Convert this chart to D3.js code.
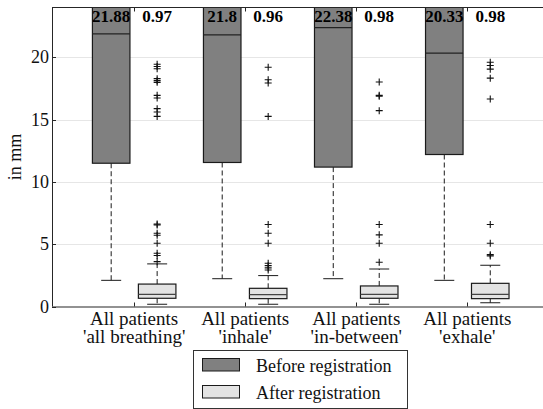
<!DOCTYPE html>
<html>
<head>
<meta charset="utf-8">
<script src="https://cdn.jsdelivr.net/npm/d3@7/dist/d3.min.js"></script>
<style>
  html, body { margin: 0; padding: 0; background: #fff; }
  svg text { font-family: "Liberation Serif", "DejaVu Serif", Times, serif; }
</style>
</head>
<body>
<svg id="chart" width="543" height="409" style="display:block"></svg>
<script>
// Registration error per breathing phase, before vs. after registration (mm)
const groupLine1 = ["All patients", "All patients", "All patients", "All patients"];
const groupLine2 = ["'all breathing'", "'inhale'", "'in-between'", "'exhale'"];

// Before registration: lower whisker, Q1, median, Q3, upper whisker
const beforeLow    = [2.1, 2.23, 2.23, 2.1];
const beforeQ1     = [11.5, 11.56, 11.19, 12.2];
const beforeMedian = [21.88, 21.8, 22.38, 20.33];
const beforeQ3     = [30.0, 30.0, 30.0, 30.0];
const beforeHigh   = [45.0, 45.0, 45.0, 45.0];

// After registration
const afterLow    = [0.18, 0.18, 0.18, 0.3];
const afterQ1     = [0.66, 0.63, 0.66, 0.63];
const afterMedian = [0.97, 0.96, 0.98, 0.98];
const afterQ3     = [1.8, 1.46, 1.65, 1.86];
const afterHigh   = [3.42, 2.48, 3.01, 3.31];
const afterOutliers = [
  [19.45, 19.26, 19.08, 18.29, 18.13, 17.99, 16.95, 16.74, 15.88, 15.61, 15.26,
   6.62, 6.55, 5.88, 5.72, 5.08, 4.27, 4.09, 3.6],
  [19.2, 18.2, 17.94, 15.26, 6.58, 5.88, 5.08, 3.47, 3.28, 3.1, 2.93],
  [18.02, 16.95, 16.88, 15.72, 6.58, 5.75, 5.08, 3.55],
  [19.6, 19.35, 19.05, 18.33, 16.66, 6.58, 5.08, 4.16, 4.06]
];

const yTicks = [0, 5, 10, 15, 20];
const yLabel = "in mm";
const legendLabels = ["Before registration", "After registration"];

const beforeFill = "#808080";
const afterFill = "#e3e3e3";
const edge = "#1a1a1a";
const axisColor = "#262626";
const serif = "'Liberation Serif', 'DejaVu Serif', Times, serif";

const svg = d3.select("#chart");
const plotLeft = 52, plotRight = 545, plotTop = 7.5, plotBottom = 306.5;

const x = d3.scaleLinear().domain([0.26, 4.7]).range([plotLeft, plotRight]);
const y = d3.scaleLinear().domain([0, 24]).range([plotBottom, plotTop]);

const offset = 0.207, boxW = 0.338, capW = 0.18;

// clip region for the plot area
svg.append("defs").append("clipPath").attr("id", "plotClip")
  .append("rect").attr("x", plotLeft).attr("y", plotTop)
  .attr("width", plotRight - plotLeft).attr("height", plotBottom - plotTop);

// grid
svg.append("g").selectAll("line").data(yTicks.filter(d => d > 0)).join("line")
  .attr("x1", plotLeft).attr("x2", plotRight)
  .attr("y1", d => Math.round(y(d)) + 0.5).attr("y2", d => Math.round(y(d)) + 0.5)
  .attr("stroke", "#e6e6e6").attr("stroke-width", 1);

const plot = svg.append("g").attr("clip-path", "url(#plotClip)");

function drawBox(g, cx, lo, q1, med, q3, hi, fill, medColor) {
  const hw = x(boxW / 2) - x(0);
  const cw = x(capW / 2) - x(0);
  const px = x(cx);
  // whiskers
  g.append("line").attr("x1", px).attr("x2", px).attr("y1", y(q1)).attr("y2", y(lo))
    .attr("stroke", edge).attr("stroke-width", 1).attr("stroke-dasharray", "5,3");
  g.append("line").attr("x1", px).attr("x2", px).attr("y1", y(q3)).attr("y2", y(hi))
    .attr("stroke", edge).attr("stroke-width", 1).attr("stroke-dasharray", "5,3");
  g.append("line").attr("x1", px - cw).attr("x2", px + cw).attr("y1", y(lo)).attr("y2", y(lo))
    .attr("stroke", edge).attr("stroke-width", 1);
  g.append("line").attr("x1", px - cw).attr("x2", px + cw).attr("y1", y(hi)).attr("y2", y(hi))
    .attr("stroke", edge).attr("stroke-width", 1);
  // box
  g.append("rect").attr("x", px - hw).attr("y", y(q3)).attr("width", 2 * hw).attr("height", y(q1) - y(q3))
    .attr("fill", fill).attr("stroke", edge).attr("stroke-width", 1.2);
  // median
  g.append("line").attr("x1", px - hw).attr("x2", px + hw).attr("y1", y(med)).attr("y2", y(med))
    .attr("stroke", medColor).attr("stroke-width", 1.2);
}

groupLine1.forEach((_, i) => {
  const pos = i + 1;
  drawBox(plot, pos - offset, beforeLow[i], beforeQ1[i], beforeMedian[i], beforeQ3[i], beforeHigh[i], beforeFill, "#222");
  drawBox(plot, pos + offset, afterLow[i], afterQ1[i], afterMedian[i], afterQ3[i], afterHigh[i], afterFill, "#444");
  // outliers as plus markers
  const ox = x(pos + offset);
  plot.append("g").selectAll("path").data(afterOutliers[i]).join("path")
    .attr("d", d => `M${ox - 3.5},${y(d)}H${ox + 3.5}M${ox},${y(d) - 3.5}V${y(d) + 3.5}`)
    .attr("stroke", "#111").attr("stroke-width", 1.1).attr("fill", "none");
});

// axes frame
svg.append("line").attr("x1", plotLeft + 0.5).attr("x2", plotLeft + 0.5).attr("y1", plotTop).attr("y2", plotBottom)
  .attr("stroke", axisColor).attr("stroke-width", 1);
svg.append("line").attr("x1", plotLeft).attr("x2", plotRight).attr("y1", plotBottom + 0.5).attr("y2", plotBottom + 0.5)
  .attr("stroke", axisColor).attr("stroke-width", 1.2);
svg.append("line").attr("x1", plotLeft).attr("x2", plotRight).attr("y1", plotTop).attr("y2", plotTop)
  .attr("stroke", axisColor).attr("stroke-width", 1);

// y ticks (inward) and labels
const yAxis = svg.append("g");
yTicks.forEach(t => {
  const ty = Math.round(y(t)) + 0.5;
  yAxis.append("line").attr("x1", plotLeft).attr("x2", plotLeft + 4).attr("y1", ty).attr("y2", ty)
    .attr("stroke", axisColor);
  yAxis.append("text").attr("x", plotLeft - 3).attr("y", y(t)).attr("dy", "0.34em")
    .attr("font-family", serif)
    .attr("text-anchor", "end").attr("font-size", 18).attr("fill", "#111").text(t);
});

// x ticks (inward, bottom and top) and two-line category labels
groupLine1.forEach((l1, i) => {
  const px = Math.round(x(i + 1)) + 0.5;
  svg.append("line").attr("x1", px).attr("x2", px).attr("y1", plotBottom).attr("y2", plotBottom - 4).attr("stroke", axisColor);
  svg.append("line").attr("x1", px).attr("x2", px).attr("y1", plotTop).attr("y2", plotTop + 4).attr("stroke", axisColor);
  svg.append("text").attr("x", x(i + 1)).attr("y", 325).attr("text-anchor", "middle")
    .attr("font-family", serif).attr("font-size", 19).attr("fill", "#111").text(l1);
  svg.append("text").attr("x", x(i + 1)).attr("y", 343).attr("text-anchor", "middle")
    .attr("font-family", serif).attr("font-size", 19).attr("fill", "#111").text(groupLine2[i]);
});

// median value labels
groupLine1.forEach((_, i) => {
  svg.append("text").attr("x", x(i + 1 - offset)).attr("y", 22).attr("text-anchor", "middle")
    .attr("font-family", serif)
    .attr("font-size", 17).attr("font-weight", "bold").attr("fill", "#000").text(beforeMedian[i]);
  svg.append("text").attr("x", x(i + 1 + offset)).attr("y", 22).attr("text-anchor", "middle")
    .attr("font-family", serif)
    .attr("font-size", 17).attr("font-weight", "bold").attr("fill", "#000").text(afterMedian[i]);
});

// y axis title
svg.append("text").attr("transform", `translate(21,${(plotTop + plotBottom) / 2}) rotate(-90)`)
  .attr("font-family", serif)
  .attr("text-anchor", "middle").attr("font-size", 18).attr("fill", "#111").text(yLabel);

// legend
const lg = svg.append("g");
lg.append("rect").attr("x", 193.5).attr("y", 350.5).attr("width", 214).attr("height", 58)
  .attr("fill", "#fff").attr("stroke", "#333").attr("stroke-width", 1);
[beforeFill, afterFill].forEach((c, i) => {
  const ry = 358.5 + i * 27;
  lg.append("rect").attr("x", 202.5).attr("y", ry).attr("width", 37).attr("height", 12.5)
    .attr("fill", c).attr("stroke", edge).attr("stroke-width", 1);
  lg.append("text").attr("x", 256).attr("y", ry + 13).attr("font-family", serif)
    .attr("font-size", 18).attr("fill", "#111").text(legendLabels[i]);
});
</script>
</body>
</html>
